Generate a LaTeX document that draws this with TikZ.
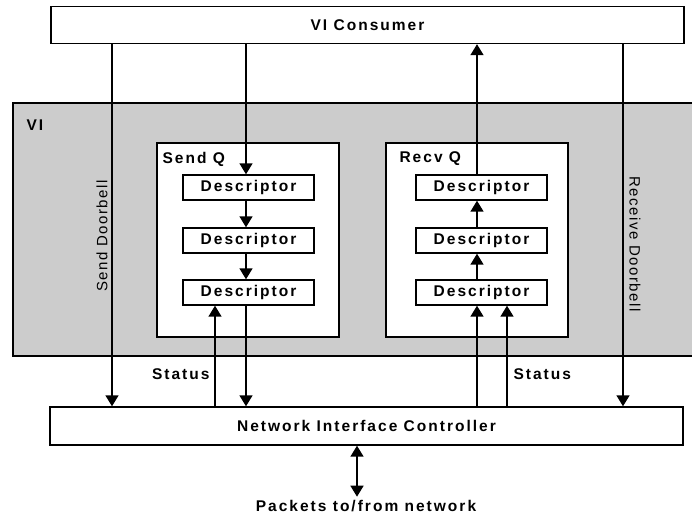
\documentclass[tikz,border=0pt]{standalone}
\usepackage{fontspec}
\setmainfont{Liberation Sans}
\newfontfamily\lblfont[LetterSpace=13]{Liberation Sans}
\newfontfamily\rotfont[LetterSpace=10]{Liberation Sans}
\usetikzlibrary{arrows.meta}
\definecolor{vigray}{RGB}{204,204,204}
\begin{document}
\begin{tikzpicture}[x=1pt,y=-1pt,
  lbl/.style={font=\lblfont\bfseries\fontsize{15.5}{17}\selectfont},
  rotlbl/.style={font=\rotfont\fontsize{15}{17}\selectfont},
  boxstyle/.style={draw, line width=1.4pt, fill=white},
  desc/.style={boxstyle, lbl, minimum width=131pt, minimum height=25pt, inner sep=0pt},
  arr/.style={line width=1.5pt, -{Triangle[width=13pt,length=11pt]}},
  dblarr/.style={line width=1.5pt, {Triangle[width=13pt,length=11pt]}-{Triangle[width=13pt,length=11pt]}}]
\useasboundingbox (0,0) rectangle (692,518);
\clip (0,0) rectangle (692,518);
% VI area
\draw[line width=1.4pt, fill=vigray] (13,103) rectangle (700,356);
\node[lbl, anchor=west] (vi) at (23,125) {VI};
% consumer and NIC
\node[boxstyle, lbl, minimum width=633pt, minimum height=37pt, inner sep=0pt] (cons) at (367.5,25) {VI Consumer};
\node[boxstyle, lbl, minimum width=633pt, minimum height=38pt, inner sep=0pt] (nic) at (366.5,426) {Network Interface Controller};
% queues
\draw[boxstyle] (157,143) rectangle (339,337);
\draw[boxstyle] (386,143) rectangle (568,337);
\node[lbl, anchor=west] (sq) at (159,159) {Send Q};
\node[lbl, anchor=west] (rq) at (396,159) {Recv Q};
\node[desc] (sd1) at (248.5,187.5) {Descriptor};
\node[desc] (sd2) at (248.5,240.5) {Descriptor};
\node[desc] (sd3) at (248.5,292.5) {Descriptor};
\node[desc] (rd1) at (481.5,187.5) {Descriptor};
\node[desc] (rd2) at (481.5,240.5) {Descriptor};
\node[desc] (rd3) at (481.5,292.5) {Descriptor};
% x positions of the vertical connectors
\coordinate (xsd) at (112,0);
\coordinate (xs) at (246,0);
\coordinate (xss) at (215,0);
\coordinate (xr) at (477,0);
\coordinate (xrs) at (507,0);
\coordinate (xrd) at (623,0);
\coordinate (xn) at (357,0);
% send side
\draw[arr] (cons.south -| xsd) -- (nic.north -| xsd);
\draw[arr] (cons.south -| xs) -- (sd1.north -| xs);
\draw[arr] (sd1.south -| xs) -- (sd2.north -| xs);
\draw[arr] (sd2.south -| xs) -- (sd3.north -| xs);
\draw[arr] (sd3.south -| xs) -- (nic.north -| xs);
\draw[arr] (nic.north -| xss) -- (sd3.south -| xss);
% receive side
\draw[arr] (rd1.north -| xr) -- (cons.south -| xr);
\draw[arr] (rd2.north -| xr) -- (rd1.south -| xr);
\draw[arr] (rd3.north -| xr) -- (rd2.south -| xr);
\draw[arr] (nic.north -| xr) -- (rd3.south -| xr);
\draw[arr] (nic.north -| xrs) -- (rd3.south -| xrs);
\draw[arr] (cons.south -| xrd) -- (nic.north -| xrd);
% doorbell labels
\node[rotlbl, rotate=90] (sdb) at (102,236) {Send Doorbell};
\node[rotlbl, rotate=-90] (rdb) at (635,244) {Receive Doorbell};
% status labels
\node[lbl, anchor=east] (st1) at (213,374) {Status};
\node[lbl, anchor=west] (st2) at (510,374) {Status};
% network
\node[lbl] (pk) at (366,506) {Packets to/from network};
\draw[dblarr] (nic.south -| xn) -- (pk.north -| xn);
\end{tikzpicture}
\end{document}
